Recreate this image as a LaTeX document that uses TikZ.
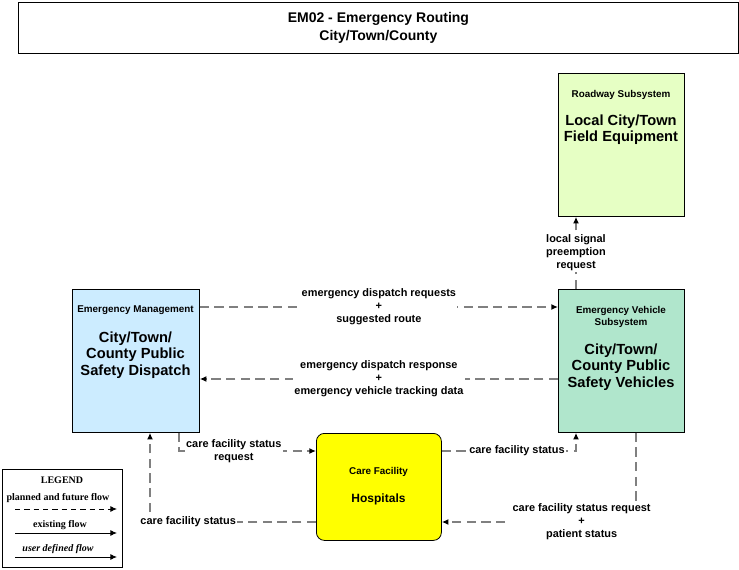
\documentclass[tikz,border=0pt]{standalone}
\usepackage{fontspec}
\setmainfont{Liberation Sans}
\newfontfamily\legendfont{Liberation Serif}
\usetikzlibrary{arrows.meta}
\usetikzlibrary{positioning}
\definecolor{c1}{RGB}{204,236,255}
\definecolor{c2}{RGB}{176,230,204}
\definecolor{c3}{RGB}{230,255,196}
\definecolor{c4}{RGB}{255,255,0}
\definecolor{flowgray}{RGB}{128,128,128}
\tikzset{
  box/.style={draw=black, line width=0.6pt, anchor=north west, inner sep=0pt},
  boxtype/.style={font=\fontsize{7.4}{9}\selectfont\bfseries, align=center, inner sep=0pt},
  boxname/.style={font=\fontsize{11}{12.4}\selectfont\bfseries, align=center, inner sep=0pt},
  lbl/.style={font=\fontsize{8.2}{9.75}\selectfont\bfseries, align=center, fill=white, inner sep=1pt},
  flow/.style={draw=flowgray, line width=1.3pt, dash pattern=on 7pt off 4pt, -{Latex[color=black, length=5pt, width=4.5pt]}},
  % legend
  legtxt/.style={font=\legendfont\fontsize{7.5}{8}\selectfont\bfseries, inner sep=0pt},
  legflow/.style={draw=black, line width=0.7pt, -{Latex[length=5pt, width=4.5pt]}},
}

\begin{document}
\begin{tikzpicture}[x=0.75pt, y=-0.75pt]
	\useasboundingbox (0,0) rectangle (739,570);

	% title
	\node[box, minimum width=540pt, minimum height=38.25pt, align=center,
	      font=\fontsize{10.5}{13.5}\selectfont\bfseries] (title) at (18,2)
	      {EM02 - Emergency Routing\\City/Town/County};

	% boxes
	\node[box, fill=c3, minimum width=94.5pt, minimum height=107.25pt] (roadway) at (558,73) {};
	\node[box, fill=c1, minimum width=95.25pt, minimum height=107.25pt] (dispatch) at (72,289) {};
	\node[box, fill=c2, minimum width=94.5pt, minimum height=107.25pt] (vehicles) at (558,289) {};
	\node[box, fill=c4, rounded corners=6pt, minimum width=93.75pt, minimum height=80.25pt] (hospital) at (316,433) {};

	\node[boxtype] (roadwaytype) at (621,95) {Roadway Subsystem};
	\node[boxname] (roadwayname) at (621,129.5) {Local City/Town\\Field Equipment};

	\node[boxtype] (dispatchtype) at (135.5,310) {Emergency Management};
	\node[boxname] (dispatchname) at (135.5,355) {City/Town/\\County Public\\Safety Dispatch};

	\node[boxtype] (vehicletype) at (621,317) {Emergency Vehicle\\Subsystem};
	\node[boxname] (vehiclename) at (621,367) {City/Town/\\County Public\\Safety Vehicles};

	\node[boxtype] (hospitaltype) at (378.5,472) {Care Facility};
	\node[boxtype, font=\fontsize{9}{10}\selectfont\bfseries] (hospitalname) at (378.5,499) {Hospitals};

	% flows
	\draw[flow] (dispatch.east |- 0,307) -- node[lbl] {emergency dispatch requests\\+\\suggested route} (vehicles.west |- 0,307);
	\draw[flow] (vehicles.west |- 0,379) -- node[lbl] {emergency dispatch response\\+\\emergency vehicle tracking data} (dispatch.east |- 0,379);
	\draw[flow] (vehicles.north -| 576,0) -- node[lbl] {local signal\\preemption\\request} (roadway.south -| 576,0);
	\draw[flow] (dispatch.south -| 179,0) |- node[lbl, pos=0.7] {care facility status\\request} (hospital.west |- 0,451);
	\draw[flow] (hospital.east |- 0,451) -| node[lbl, pos=0.28] {care facility status} (vehicles.south -| 576,0);
	\draw[flow] (hospital.west |- 0,522) -| node[lbl, pos=0.385] {care facility status} (dispatch.south -| 150,0);
	\draw[flow] (vehicles.south -| 636,0) |- node[lbl, pos=0.64] {care facility status request\\+\\patient status} (hospital.east |- 0,522);

	% legend
	\node[box, line width=0.8pt, minimum width=90pt, minimum height=73.5pt] (legend) at (2,469) {};
	\node[legtxt] (legendtitle) at (62,480) {LEGEND};
	\node[legtxt] (plannedtxt) at (58,498) {planned and future flow};
	\node[legtxt] (existingtxt) at (60,525) {existing flow};
	\node[legtxt, font=\legendfont\fontsize{7.5}{8}\selectfont\bfseries\itshape] (usertxt) at (58,549) {user defined flow};
	\coordinate (p1) at (15,509);  \coordinate (p2) at (117,509);
	\coordinate (e1) at (15,533);  \coordinate (e2) at (117,533);
	\coordinate (u1) at (15,557);  \coordinate (u2) at (117,557);
	\draw[legflow, dash pattern=on 4pt off 3pt] (p1) -- (p2);
	\draw[legflow] (e1) -- (e2);
	\draw[legflow] (u1) -- (u2);

\end{tikzpicture}
\end{document}
